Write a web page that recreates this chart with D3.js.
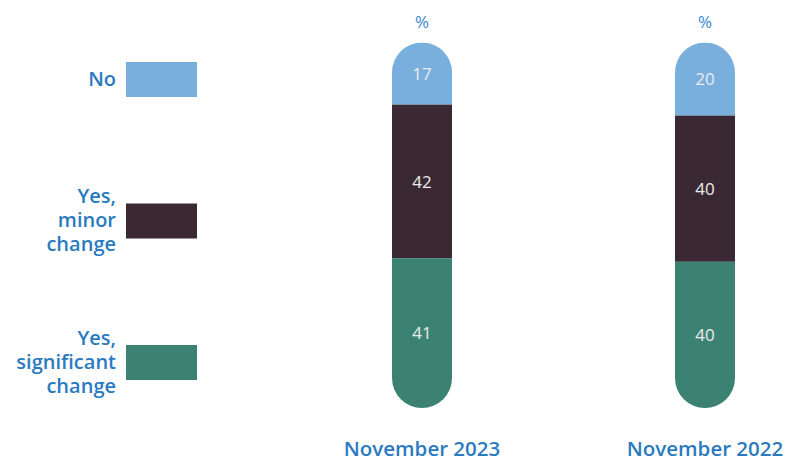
<!DOCTYPE html>
<html>
<head>
<meta charset="utf-8">
<script src="https://cdn.jsdelivr.net/npm/d3@7"></script>
<style>
  html, body { margin: 0; padding: 0; background: #ffffff; }
  svg { display: block; font-family: "Open Sans", "Noto Sans", sans-serif; }
</style>
</head>
<body>
<svg id="chart" width="791" height="462"></svg>
<script>
// Survey periods (one stacked pill each)
const periods = ["November 2023", "November 2022"];
// Answer categories, stacked top to bottom
const categories = ["No", "Yes, minor change", "Yes, significant change"];
// Legend labels split into lines
const legendLines = [["No"], ["Yes,", "minor", "change"], ["Yes,", "significant", "change"]];
// Share of respondents (%) per category, in period order
const noValues = [17, 20];
const minorValues = [42, 40];
const significantValues = [41, 40];

const colors = ["#79afdc", "#3a2932", "#3c8273"];
const textBlue = "#2a7abf";

const svg = d3.select("#chart");
const barWidth = 60;

const x = d3.scalePoint().domain(periods).range([422, 705]);
const y = d3.scaleLinear().domain([0, 100]).range([42.5, 408]);
const color = d3.scaleOrdinal().domain(categories).range(colors);

const rows = periods.map((p, i) => ({
  period: p,
  No: noValues[i],
  "Yes, minor change": minorValues[i],
  "Yes, significant change": significantValues[i]
}));
const stacked = d3.stack().keys(categories)(rows);

// Pill-shaped clip per period
const defs = svg.append("defs");
periods.forEach((p, i) => {
  defs.append("clipPath").attr("id", "pill" + i)
    .append("rect")
    .attr("x", x(p) - barWidth / 2)
    .attr("y", y(0))
    .attr("width", barWidth)
    .attr("height", y(100) - y(0))
    .attr("rx", barWidth / 2)
    .attr("ry", barWidth / 2);
});

const barGroups = svg.append("g").selectAll("g")
  .data(periods).join("g")
  .attr("clip-path", (d, i) => `url(#pill${i})`);

barGroups.each(function(p, i) {
  const g = d3.select(this);
  stacked.forEach(layer => {
    const seg = layer[i];
    g.append("rect")
      .attr("x", x(p) - barWidth / 2)
      .attr("y", y(seg[0]))
      .attr("width", barWidth)
      .attr("height", y(seg[1]) - y(seg[0]))
      .attr("fill", color(layer.key));
  });
});

// Value labels
stacked.forEach(layer => {
  layer.forEach((seg, i) => {
    svg.append("text")
      .attr("x", x(periods[i]))
      .attr("y", y((seg[0] + seg[1]) / 2))
      .attr("dy", "0.36em")
      .attr("text-anchor", "middle")
      .attr("font-size", 17)
      .attr("fill", "#ececec")
      .text(seg[1] - seg[0]);
  });
});

// Percent heading above each pill
periods.forEach(p => {
  svg.append("text")
    .attr("x", x(p))
    .attr("y", 28)
    .attr("text-anchor", "middle")
    .attr("font-size", 17)
    .attr("fill", "#3a8ad0")
    .text("%");
});

// Period labels
periods.forEach(p => {
  svg.append("text")
    .attr("x", x(p))
    .attr("y", 456)
    .attr("text-anchor", "middle")
    .attr("font-size", 20.5)
    .attr("font-weight", 600)
    .attr("fill", textBlue)
    .text(p);
});

// Legend
const legendY = d3.scalePoint().domain(categories).range([79.5, 362.5]);
const legend = svg.append("g");
categories.forEach((c, i) => {
  const cy = legendY(c);
  legend.append("rect")
    .attr("x", 126).attr("y", cy - 17.5)
    .attr("width", 71).attr("height", 35)
    .attr("fill", color(c));
  const lines = legendLines[i];
  const lh = 24;
  const t = legend.append("text")
    .attr("text-anchor", "end")
    .attr("font-size", 20)
    .attr("font-weight", 600)
    .attr("fill", textBlue);
  lines.forEach((ln, j) => {
    t.append("tspan")
      .attr("x", 116)
      .attr("y", cy + 6 + (j - (lines.length - 1) / 2) * lh)
      .text(ln);
  });
});
</script>
</body>
</html>
